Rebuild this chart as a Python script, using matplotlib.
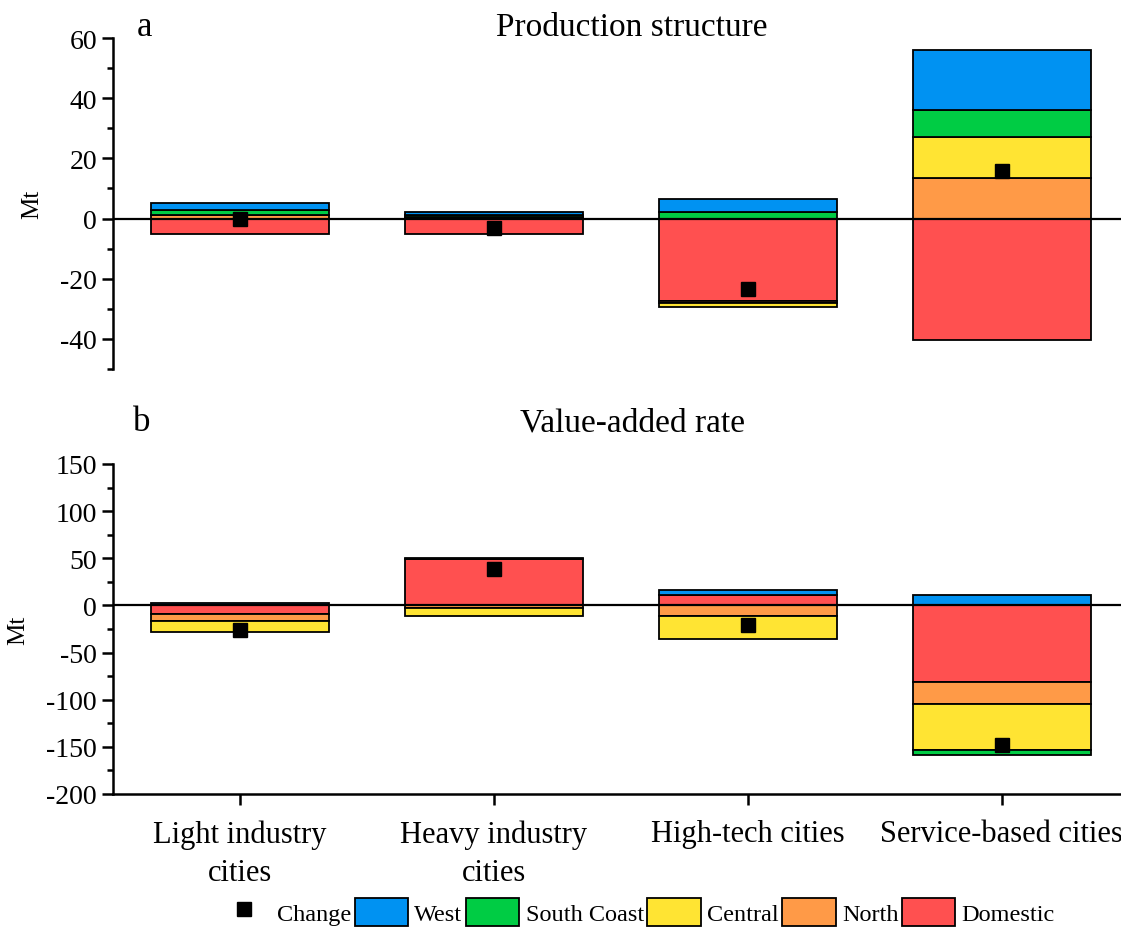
import numpy as np
import matplotlib.pyplot as plt
from matplotlib.ticker import MultipleLocator
from matplotlib.patches import Patch
from matplotlib.lines import Line2D

plt.rcParams['font.family'] = ['Liberation Serif', 'DejaVu Serif']
plt.rcParams['axes.unicode_minus'] = False

cities = ['Light industry\ncities', 'Heavy industry\ncities', 'High-tech cities', 'Service-based cities']
regions = ['Domestic', 'North', 'Central', 'South Coast', 'West']
colors = {'Domestic': '#FF5050', 'North': '#FF9A47', 'Central': '#FFE433',
          'South Coast': '#00CC44', 'West': '#0092F2'}

# (a) production structure effect, Mt
prod_domestic = [-5.2, -5.3, -27.5, -40.3]
prod_north = [1.2, 0.5, -0.5, 13.6]
prod_central = [0.0, 0.0, -1.5, 13.4]
prod_south = [1.7, 0.8, 2.2, 9.2]
prod_west = [2.2, 0.9, 4.2, 19.9]
prod_change = [-0.2, -3.1, -23.4, 15.9]

# (b) value-added rate effect, Mt
va_domestic = [-9.1, 49.3, 11.0, -81.5]
va_north = [-7.1, -2.5, -10.9, -23.4]
va_central = [-11.7, -8.4, -24.7, -48.1]
va_south = [0.0, 0.3, 0.0, -5.6]
va_west = [2.9, 0.3, 5.3, 11.0]
va_change = [-25.8, 38.6, -20.4, -147.6]


def stacked(ax, series, change):
    x = np.arange(len(cities))
    pos = np.zeros(len(cities))
    neg = np.zeros(len(cities))
    for name in regions:
        vals = np.array(series[name])
        base = np.where(vals >= 0, pos, neg)
        ax.bar(x, vals, 0.7, bottom=base, color=colors[name],
               edgecolor='black', linewidth=1.3, zorder=2)
        pos = pos + np.clip(vals, 0, None)
        neg = neg + np.clip(vals, None, 0)
    ax.axhline(0, color='black', lw=1.6, zorder=3)
    ax.plot(x, change, 's', color='black', ms=10, zorder=4)
    ax.set_xlim(-0.5, 3.47)
    ax.spines['top'].set_visible(False)
    ax.spines['right'].set_visible(False)
    ax.spines['left'].set_linewidth(1.8)
    ax.spines['bottom'].set_linewidth(1.8)
    ax.tick_params(axis='y', which='major', direction='out', length=8, width=1.8, labelsize=20)
    ax.tick_params(axis='y', which='minor', direction='out', length=4, width=1.8)
    ax.set_ylabel('Mt', fontsize=18, labelpad=12)


fig = plt.figure(figsize=(11.21, 9.28), dpi=100)
left = 113 / 1121
ax1 = fig.add_axes([left, 1 - 370 / 928, 1 - left, 331 / 928])
ax2 = fig.add_axes([left, 1 - 795 / 928, 1 - left, 330 / 928])

stacked(ax1, {'Domestic': prod_domestic, 'North': prod_north, 'Central': prod_central,
              'South Coast': prod_south, 'West': prod_west}, prod_change)
ax1.set_ylim(-50, 60)
ax1.yaxis.set_major_locator(MultipleLocator(20))
ax1.yaxis.set_minor_locator(MultipleLocator(10))
ax1.spines['bottom'].set_visible(False)
ax1.set_xticks([])

stacked(ax2, {'Domestic': va_domestic, 'North': va_north, 'Central': va_central,
              'South Coast': va_south, 'West': va_west}, va_change)
ax2.set_ylim(-200, 150)
ax2.yaxis.set_major_locator(MultipleLocator(50))
ax2.yaxis.set_minor_locator(MultipleLocator(25))
ax2.set_xticks(np.arange(len(cities)))
ax2.set_xticklabels(cities, fontsize=22, linespacing=1.45)
ax2.tick_params(axis='x', direction='out', length=8, width=1.8, pad=10)

fig.text(632 / 1121, 1 - 28 / 928, 'Production structure', fontsize=24, ha='center', va='center')
fig.text(145 / 1121, 1 - 28 / 928, 'a', fontsize=25, ha='center', va='center')
fig.text(632 / 1121, 1 - 423 / 928, 'Value-added rate', fontsize=24, ha='center', va='center')
fig.text(142 / 1121, 1 - 423 / 928, 'b', fontsize=25, ha='center', va='center')

handles = [Line2D([], [], ls='none', marker='s', color='black', ms=10, label='Change')]
for name in ['West', 'South Coast', 'Central', 'North', 'Domestic']:
    handles.append(Patch(facecolor=colors[name], edgecolor='black', lw=1.3, label=name))
fig.legend(handles=handles, loc='center', bbox_to_anchor=(636 / 1121, 1 - 913 / 928),
           ncol=6, frameon=False, fontsize=17.5, handlelength=2.2, handleheight=1.4,
           handletextpad=0.25, columnspacing=0.15, borderpad=0)

fig.savefig('out.png', dpi=100)
